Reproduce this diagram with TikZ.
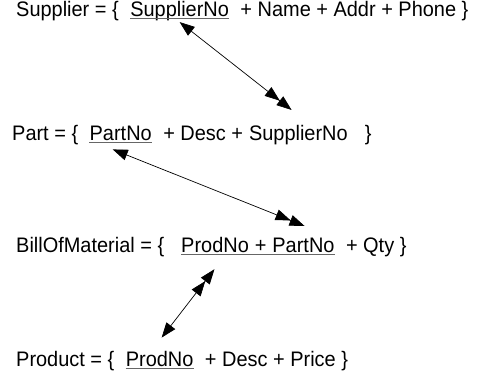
\documentclass[tikz,border=0pt]{standalone}
\usepackage{fontspec}
\setmainfont[FakeStretch=0.95]{Liberation Sans}
\usetikzlibrary{arrows.meta}

\begin{document}
\begin{tikzpicture}[
    x=1pt, y=-1pt,
    txt/.style={inner sep=0pt, anchor=base west, font=\fontsize{21}{25}\selectfont},
    uline/.style={line width=1pt, color=black!60},
    arr/.style={{Triangle[length=15pt,width=11pt]}-{Triangle[length=15pt,width=11pt]Triangle[length=15pt,width=11pt,sep=1pt]}, line width=0.7pt}
]
\useasboundingbox (0,0) rectangle (484,381);

% Supplier
\node[txt] (supl) at (16,16.5) {Supplier = \{\ \ \null};
\node[txt] (suplno) at (supl.base east) {SupplierNo};
\node[txt] (suplrest) at (suplno.base east) {\ \ + Name + Addr + Phone \}};
\draw[uline] ([yshift=-2pt]suplno.base west) -- ([yshift=-2pt]suplno.base east);

% Part
\node[txt] (part) at (12,140) {Part = \{\ \ \null};
\node[txt] (partno) at (part.base east) {PartNo};
\node[txt] (partmid) at (partno.base east) {\ \ + Desc +\ \null};
\node[txt] (partsup) at (partmid.base east) {SupplierNo};
\node[txt] (partend) at (partsup.base east) {\ \ \ \}};
\draw[uline] ([yshift=-2pt]partno.base west) -- ([yshift=-2pt]partno.base east);

% BillOfMaterial
\node[txt] (bom) at (16,252) {BillOfMaterial = \{\ \ \ \null};
\node[txt] (bomprod) at (bom.base east) {ProdNo};
\node[txt] (bomplus) at (bomprod.base east) {\ +\ \null};
\node[txt] (bompart) at (bomplus.base east) {PartNo};
\node[txt] (bomrest) at (bompart.base east) {\ \ + Qty \}};
\draw[uline] ([yshift=-2pt]bomprod.base west) -- ([yshift=-2pt]bompart.base east);

% Product
\node[txt] (prod) at (16,366) {Product = \{\ \ \null};
\node[txt] (prodno) at (prod.base east) {ProdNo};
\node[txt] (prodrest) at (prodno.base east) {\ \ + Desc + Price \}};
\draw[uline] ([yshift=-2pt]prodno.base west) -- ([yshift=-2pt]prodno.base east);

% links between keys
\draw[arr] ([yshift=-1pt]suplno.south) -- ([xshift=-6pt,yshift=14pt]partsup.north);
\draw[arr] ([xshift=-8pt,yshift=-9pt]partno.south) -- ([xshift=2pt,yshift=11pt]bompart.north);
\draw[arr] ([xshift=2pt,yshift=13pt]prodno.north) -- ([yshift=-16pt]bomprod.south);
\end{tikzpicture}
\end{document}
